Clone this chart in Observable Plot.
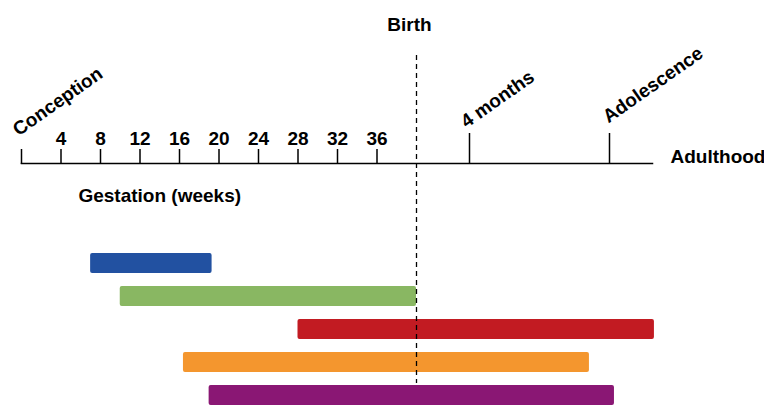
<!DOCTYPE html>
<html><head><meta charset="utf-8">
<script src="https://cdn.jsdelivr.net/npm/d3@7"></script>
<script src="https://cdn.jsdelivr.net/npm/@observablehq/plot@0.6"></script>
<style>body{margin:0;background:#fff}</style>
</head><body><div id="chart"></div>
<script>
// Timeline in weeks since conception
const gestationWeeks = [0, 4, 8, 12, 16, 20, 24, 28, 32, 36];
const milestoneNames = ["Conception", "Birth", "4 months", "Adolescence", "Adulthood"];
const milestoneWeeks = [0, 40, 57, 664, 976];
const gestationLabel = "Gestation (weeks)";
const gestationLabelAt = 14;

// Bars (unlabelled rows)
const rows = ["1", "2", "3", "4", "5"];
const barStart = [7, 10, 28, 16.4, 19];
const barEnd = [19.3, 40, 990, 577, 700];
const barColors = ["#2251a1", "#89b762", "#c21b22", "#f4962e", "#8a1774"];

const bars = rows.map((r, i) => ({row: r, start: barStart[i], end: barEnd[i], color: barColors[i]}));
const milestones = milestoneNames.map((n, i) => ({name: n, week: milestoneWeeks[i]}));
const font = "'Liberation Sans', Arial, Helvetica, sans-serif";
const fs = 19;
const rot = -35;

const plot = Plot.plot({
  width: 764, height: 405,
  marginTop: 163, marginLeft: 21, marginRight: 112, marginBottom: 0,
  style: {fontFamily: font, fontSize: fs + "px", fontWeight: "bold", color: "#000", background: "#fff", overflow: "hidden"},
  x: {type: "linear", domain: milestoneWeeks, range: [21, 416, 469, 609, 652]},
  y: {type: "band", domain: rows, range: [252, 405], paddingInner: 0.4, paddingOuter: 0, axis: null},
  marks: [
    Plot.barX(bars, {y: "row", x1: "start", x2: "end", fill: "color", rx: 2}),
    Plot.ruleX([milestoneWeeks[1]], {stroke: "#000", strokeWidth: 1.3, strokeDasharray: "5,4", insetTop: -108, insetBottom: 22}),
    Plot.frame({anchor: "top", stroke: "#000", strokeWidth: 1.5}),
    Plot.axisX({anchor: "top", ticks: gestationWeeks, tickSize: 15, tickPadding: 4, strokeWidth: 1.5,
      tickFormat: d => d === 0 ? "" : String(d), label: null, fontSize: fs, fontWeight: "bold"}),
    Plot.axisX({anchor: "top", ticks: [milestoneWeeks[2], milestoneWeeks[3]], tickSize: 31, strokeWidth: 1.5,
      tickFormat: () => "", label: null}),
    Plot.text([milestones[0]], {x: "week", text: "name", frameAnchor: "top", rotate: rot, textAnchor: "start", lineAnchor: "bottom", dx: -3, dy: -27, fontSize: fs, fontWeight: "bold"}),
    Plot.text([milestones[2]], {x: "week", text: "name", frameAnchor: "top", rotate: rot, textAnchor: "start", lineAnchor: "bottom", dx: -3, dy: -35, fontSize: fs, fontWeight: "bold"}),
    Plot.text([milestones[3]], {x: "week", text: "name", frameAnchor: "top", rotate: rot, textAnchor: "start", lineAnchor: "bottom", dx: -1, dy: -40, fontSize: fs, fontWeight: "bold"}),
    Plot.text([milestones[1]], {x: "week", text: "name", frameAnchor: "top", lineAnchor: "bottom", dy: -133, dx: -7, fontSize: fs, fontWeight: "bold"}),
    Plot.text([milestones[4]], {x: "week", text: "name", frameAnchor: "top", lineAnchor: "bottom", textAnchor: "start", dx: 18, dy: -1, fontSize: fs, fontWeight: "bold"}),
    Plot.text([{label: gestationLabel, week: gestationLabelAt}], {x: "week", text: "label", frameAnchor: "top", lineAnchor: "bottom", dy: 38, fontSize: fs, fontWeight: "bold"})
  ]
});
document.getElementById("chart").append(plot);
</script>
</body></html>
